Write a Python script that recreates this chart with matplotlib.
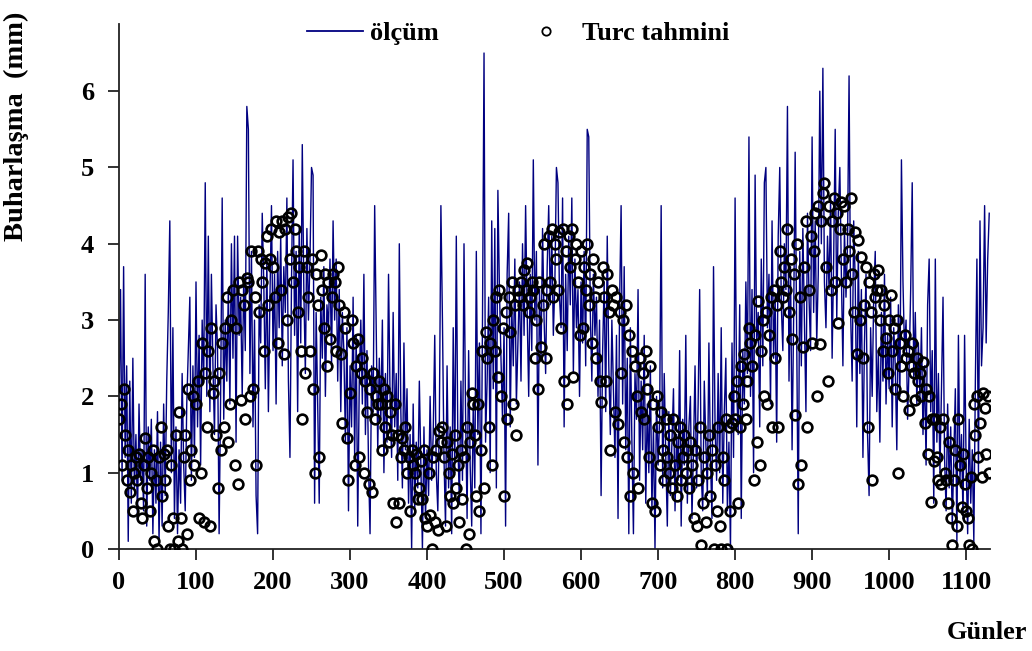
import matplotlib
matplotlib.use("Agg")
import matplotlib.pyplot as plt
from matplotlib.lines import Line2D
import numpy as np

# daily pan evaporation (mm), one reading every 2 days
olcum = [
    1.8, 3.4, 0.9, 3.7, 1.2, 2.4, 0.1, 2.2, 0.6, 2.5,
    0.8, 1.5, 0.4, 1.9, 0.9, 1.3, 0.5, 3.6, 0.3, 1.6,
    0.9, 1.7, 0.2, 1.3, 0.6, 1.8, 0.1, 1.4, 0.3, 1.9,
    0.7, 2.2, 3.1, 4.3, 1.0, 2.9, 0.4, 1.6, 0.2, 1.3,
    0.6, 2.3, 1.1, 0.5, 1.9, 2.6, 3.3, 0.9, 2.4, 1.2,
    3.5, 1.6, 2.8, 1.1, 3.0, 2.2, 4.8, 2.0, 4.1, 1.8,
    3.6, 2.4, 1.5, 3.2, 2.6, 0.2, 2.0, 4.6, 1.7, 3.0,
    2.2, 3.4, 1.9, 4.0, 2.5, 4.1, 1.4, 4.1, 2.8, 3.3,
    2.0, 3.6, 2.6, 5.8, 5.5, 2.3, 3.9, 1.6, 3.0, 0.7,
    0.2, 3.2, 2.7, 4.4, 3.5, 2.1, 3.8, 1.8, 3.3, 4.5,
    2.6, 3.6, 1.9, 3.9, 2.9, 4.1, 2.4, 3.7, 3.1, 4.6,
    2.2, 1.2, 3.5, 5.1, 2.8, 3.9, 1.8, 4.2, 2.7, 5.3,
    3.4, 2.3, 4.2, 3.0, 3.8, 5.0, 4.9, 0.6, 3.1, 1.9,
    0.6, 3.3, 2.5, 3.7, 2.0, 3.2, 2.9, 3.8, 2.4, 4.3,
    3.0, 3.8, 2.2, 3.4, 1.8, 3.1, 2.6, 1.4, 2.9, 0.5,
    2.4, 1.6, 3.3, 1.2, 2.8, 0.3, 2.2, 3.0, 1.9, 3.6,
    1.5, 2.6, 1.1, 0.2, 2.4, 1.8, 4.5, 2.9, 1.3, 2.5,
    1.7, 3.0, 1.0, 2.3, 1.4, 3.6, 2.0, 1.2, 3.1, 1.6,
    2.3, 0.9, 4.0, 1.8, 0.8, 2.7, 1.3, 2.1, 0.6, 1.5,
    0.0, 1.9, 0.5, 1.4, 0.8, 2.2, 1.1, 0.0, 1.6, 0.4,
    1.3, 0.7, 2.0, 0.9, 1.5, 2.8, 1.0, 0.5, 1.7, 4.5,
    3.0, 1.2, 0.3, 2.4, 0.8, 1.6, 0.2, 2.9, 1.0, 4.1,
    1.4, 0.6, 2.2, 0.9, 4.0, 1.8, 0.4, 2.6, 1.1, 0.3,
    1.9, 0.8, 3.9, 1.5, 2.7, 0.2, 3.0, 6.5, 1.4, 2.2,
    3.3, 1.0, 4.3, 2.1, 4.2, 0.8, 4.7, 3.4, 2.5, 1.7,
    2.9, 0.3, 3.6, 4.4, 1.6, 3.2, 2.4, 3.8, 1.9, 2.7,
    3.5, 2.2, 4.0, 2.8, 4.5, 3.1, 2.0, 3.6, 2.6, 5.1,
    3.0, 3.9, 1.1, 3.4, 2.5, 4.2, 3.0, 2.3, 3.7, 4.5,
    3.2, 4.1, 2.8, 3.5, 5.0, 4.8, 3.3, 2.9, 4.6, 1.6,
    3.6, 2.6, 4.1, 3.2, 4.6, 2.3, 3.8, 2.9, 3.4, 2.0,
    3.5, 2.7, 3.9, 2.4, 5.5, 5.4, 3.1, 2.2, 3.6, 2.8,
    3.3, 2.0, 3.0, 0.7, 2.6, 3.5, 1.8, 4.1, 2.4, 1.5,
    3.0, 2.1, 1.2, 2.8, 0.4, 3.2, 4.5, 1.9, 3.7, 1.3,
    2.5, 0.2, 2.9, 1.4, 0.2, 2.3, 1.7, 3.4, 0.9, 2.2,
    1.3, 2.8, 0.6, 1.9, 1.0, 2.4, 0.5, 1.6, 0.0, 2.0,
    1.1, 1.7, 4.5, 0.8, 2.3, 1.2, 0.3, 1.8, 0.7, 1.4,
    2.1, 0.5, 1.5, 0.9, 2.6, 0.3, 1.7, 1.1, 2.8, 0.6,
    1.6, 2.0, 0.4, 1.3, 2.4, 0.8, 1.9, 3.4, 1.0, 0.5,
    2.2, 1.4, 0.7, 2.7, 1.2, 0.4, 3.7, 1.6, 0.9, 2.3,
    1.0, 2.9, 0.6, 1.8, 2.5, 0.5, 1.4, 0.0, 2.7, 1.2,
    4.6, 2.1, 1.5, 3.2, 0.4, 2.6, 1.9, 3.5, 2.3, 5.4,
    2.0, 3.4, 1.0, 4.9, 2.7, 3.1, 1.6, 3.8, 2.4, 4.8,
    5.0, 2.9, 3.6, 1.9, 4.3, 2.5, 3.3, 1.4, 4.1, 5.0,
    3.2, 2.6, 4.0, 3.4, 5.8, 2.2, 3.7, 1.3, 3.0, 5.2,
    2.8, 0.2, 3.9, 2.4, 4.2, 3.0, 1.8, 4.4, 3.3, 2.6,
    5.4, 3.1, 4.3, 2.7, 3.6, 6.0, 4.0, 6.3, 3.5, 2.9,
    4.1, 3.4, 4.6, 2.5, 3.8, 5.5, 3.0, 4.4, 5.0, 3.6,
    2.4, 4.2, 3.3, 4.0, 6.2, 3.1, 2.2, 4.3, 3.5, 1.6,
    3.9, 2.3, 3.4, 1.2, 2.7, 3.6, 1.5, 0.7, 2.9, 2.0,
    3.3, 3.9, 1.8, 2.6, 1.4, 3.1, 2.2, 3.6, 1.9, 2.8,
    2.1, 3.3, 1.6, 2.9, 2.4, 1.3, 3.2, 2.0, 5.1, 3.5,
    2.6, 3.0, 1.7, 2.4, 3.4, 4.8, 2.2, 3.1, 1.9, 2.7,
    2.0, 2.9, 1.5, 2.4, 1.1, 3.2, 3.8, 1.8, 2.6, 0.6,
    3.8, 1.4, 2.3, 1.0, 2.1, 3.3, 1.2, 0.5, 1.9, 0.8,
    1.6, 0.3, 1.2, 2.1, 0.1, 2.8, 0.9, 1.5, 0.4, 2.8,
    1.1, 0.2, 1.7, 0.6, 1.3, 0.1, 2.2, 3.8, 1.0, 4.3,
    2.4, 2.9, 4.5, 2.7, 3.8, 4.4,
]

# Turc method estimates for the same days
turc = [
    1.7, 1.9, 1.1, 2.1, 1.5, 0.9, 1.3, 0.75, 1.1, 0.5,
    1.0, 1.2, 0.9, 1.25, 0.6, 0.4, 1.1, 1.45, 0.8, 1.2,
    0.5, 1.0, 1.3, 0.1, 0.9, 0.0, 1.2, 1.6, 0.7, 1.25,
    0.9, 1.3, 0.3, 0.0, 1.1, 0.4, 0.0, 1.5, 0.1, 1.8,
    0.4, 0.0, 1.2, 1.5, 0.2, 2.1, 0.9, 1.3, 2.0, 1.1,
    1.9, 2.2, 0.4, 1.0, 2.7, 0.35, 2.3, 1.6, 2.6, 0.3,
    2.9, 2.05, 2.2, 1.5, 0.8, 2.3, 1.3, 2.7, 1.6, 2.9,
    3.3, 1.4, 1.9, 3.0, 3.4, 1.1, 2.9, 0.85, 3.5, 1.95,
    3.4, 3.2, 1.7, 3.55, 3.5, 2.0, 3.9, 2.1, 3.3, 1.1,
    3.9, 3.1, 3.8, 3.5, 2.6, 3.75, 4.1, 3.2, 3.8, 4.2,
    3.7, 3.3, 4.3, 2.7, 4.15, 3.4, 4.3, 2.55, 4.2, 3.0,
    4.35, 3.8, 4.4, 3.5, 4.2, 3.9, 3.1, 3.7, 2.6, 1.7,
    3.9, 2.3, 3.7, 3.3, 2.6, 3.8, 2.1, 1.0, 3.6, 3.2,
    1.2, 3.85, 3.4, 2.9, 3.6, 2.4, 3.5, 2.75, 3.3, 3.6,
    3.5, 2.6, 3.7, 3.2, 2.55, 1.65, 3.1, 2.9, 1.45, 0.9,
    2.05, 3.0, 2.7, 1.1, 2.4, 2.75, 1.2, 2.3, 2.5, 1.0,
    2.2, 1.8, 0.85, 2.1, 0.75, 2.3, 1.7, 2.0, 1.9, 2.2,
    1.9, 1.3, 2.1, 1.6, 2.0, 1.4, 1.8, 1.5, 0.6, 1.9,
    0.35, 1.5, 0.6, 1.2, 1.45, 1.3, 1.6, 1.0, 1.2, 0.5,
    1.3, 1.1, 1.0, 1.25, 0.65, 0.8, 1.15, 0.65, 1.3, 0.4,
    0.3, 1.0, 0.45, 0.0, 1.2, 0.35, 1.3, 0.25, 1.55, 1.4,
    1.6, 1.2, 0.3, 1.4, 1.0, 0.7, 1.25, 0.6, 1.5, 0.8,
    1.1, 0.35, 1.3, 0.65, 1.2, 0.0, 1.6, 0.2, 1.4, 2.05,
    1.9, 1.5, 0.7, 1.9, 0.5, 1.3, 2.6, 0.8, 2.85, 2.5,
    1.6, 2.7, 1.1, 3.0, 2.6, 3.3, 2.25, 3.4, 2.0, 2.9,
    0.7, 3.1, 1.7, 3.3, 2.85, 3.5, 1.9, 3.2, 1.5, 3.4,
    3.3, 3.5, 3.2, 3.66, 3.4, 3.75, 3.1, 3.3, 3.5, 3.4,
    2.5, 3.0, 2.1, 3.5, 2.65, 3.2, 4.0, 2.5, 3.4, 4.1,
    3.5, 4.2, 3.3, 4.0, 3.8, 3.4, 4.15, 2.9, 4.2, 2.2,
    3.9, 1.9, 4.1, 3.7, 4.2, 2.25, 3.8, 4.0, 3.5, 2.8,
    3.9, 2.9, 3.7, 3.4, 4.0, 3.2, 3.6, 2.7, 3.8, 3.3,
    2.5, 3.5, 2.2, 1.93, 3.7, 3.3, 2.2, 3.6, 3.1, 1.3,
    3.4, 3.2, 1.8, 3.3, 1.64, 3.1, 2.3, 3.0, 1.4, 3.2,
    1.2, 2.8, 0.7, 2.6, 1.0, 2.4, 2.0, 0.8, 2.5, 1.8,
    2.3, 1.7, 2.6, 2.1, 1.2, 2.4, 0.6, 1.9, 0.5, 2.0,
    1.6, 1.1, 1.8, 1.3, 0.9, 1.7, 1.2, 1.0, 1.5, 0.8,
    1.7, 1.1, 0.7, 1.4, 1.6, 0.9, 1.2, 1.5, 1.0, 1.3,
    0.8, 1.4, 1.1, 0.4, 1.3, 0.3, 0.9, 1.6, 0.05, 0.6,
    1.2, 0.35, 1.0, 1.5, 0.7, 1.3, 0.0, 1.1, 0.5, 1.6,
    0.3, 0.0, 1.2, 0.9, 1.7, 0.0, 1.6, 0.5, 1.65, 2.0,
    1.7, 2.2, 0.6, 1.6, 2.4, 1.9, 2.56, 1.7, 2.2, 2.9,
    2.7, 2.4, 0.9, 2.8, 1.4, 3.25, 1.1, 2.6, 3.0, 2.0,
    3.1, 1.9, 2.8, 3.3, 1.6, 3.4, 2.5, 3.2, 1.6, 3.9,
    3.5, 3.3, 3.7, 3.4, 4.2, 3.1, 3.8, 2.75, 3.6, 1.75,
    4.0, 0.85, 3.3, 1.1, 2.65, 3.7, 4.3, 1.6, 3.4, 4.1,
    2.7, 3.9, 4.4, 2.0, 4.5, 2.68, 4.3, 4.66, 4.8, 3.7,
    2.2, 4.5, 3.4, 4.3, 4.6, 3.5, 4.4, 2.96, 4.2, 4.55,
    3.8, 4.5, 3.5, 4.2, 3.9, 4.6, 3.6, 3.1, 4.15, 2.56,
    4.05, 3.0, 3.83, 2.5, 3.2, 3.7, 1.6, 3.5, 3.1, 0.9,
    3.6, 3.3, 3.4, 3.65, 3.0, 3.4, 2.6, 3.2, 2.76, 2.3,
    3.0, 3.33, 2.6, 2.9, 2.1, 3.0, 1.0, 2.7, 2.4, 2.0,
    2.8, 2.5, 2.6, 1.82, 2.4, 2.7, 2.3, 1.95, 2.5, 2.2,
    2.3, 2.0, 2.45, 1.65, 2.1, 1.25, 2.0, 0.62, 1.7, 1.15,
    1.7, 1.2, 0.9, 1.6, 0.85, 1.7, 1.0, 0.9, 0.6, 1.4,
    0.4, 0.05, 0.9, 1.3, 0.3, 1.7, 1.1, 0.55, 1.25, 0.85,
    0.5, 0.4, 0.05, 0.95, 0.0, 1.9, 1.5, 2.0, 1.2, 1.65,
    0.95, 2.05, 1.85, 1.25, 2.0, 1.0,
]

gun_olcum = 2 * np.arange(len(olcum))
gun_turc = 2 * np.arange(len(turc))

plt.rcParams['font.family'] = ['Liberation Serif', 'DejaVu Serif']
plt.rcParams['font.weight'] = 'bold'

fig = plt.figure(figsize=(10.32, 6.51), dpi=100)
ax = fig.add_axes([0.1153, 0.1567, 0.8440, 0.8064])

ax.plot(gun_olcum, olcum, color='#000080', lw=1.0, zorder=2)
ax.plot(gun_turc, turc, ls='none', marker='o', ms=7, mfc='none',
        mec='black', mew=1.9, zorder=3)

ax.set_xlim(0, 1131)
ax.set_ylim(0, 6.88)
ax.set_xticks(range(0, 1101, 100))
ax.set_yticks(range(0, 7))

for s in ['top', 'right']:
    ax.spines[s].set_visible(False)
for s in ['left', 'bottom']:
    ax.spines[s].set_linewidth(1.3)
    ax.spines[s].set_color('#222222')

ax.tick_params(axis='both', direction='out', length=8, width=1.3,
               color='#222222', labelsize=19)
ax.tick_params(axis='x', pad=8)
ax.tick_params(axis='y', pad=10)
for lab in ax.get_xticklabels() + ax.get_yticklabels():
    lab.set_fontweight('bold')

ax.set_ylabel('Buharlaşma  (mm)', fontsize=20.5, fontweight='bold')
ax.yaxis.set_label_coords(-0.103, 0.805)
fig.text(0.995, 0.028, 'Günler', ha='right', va='center',
         fontsize=19, fontweight='bold')

handles = [
    Line2D([], [], color='#000080', lw=1.3),
    Line2D([], [], ls='none', marker='o', ms=6, mfc='none',
           mec='black', mew=1.3),
]
fig.legend(handles, ['ölçüm', 'Turc tahmini'], loc='center',
           bbox_to_anchor=(0.502, 0.949), ncol=2, frameon=False,
           handlelength=2.1, handletextpad=0.3, columnspacing=3.0,
           prop={'weight': 'bold', 'size': 19})

fig.savefig('out.png', dpi=100)
